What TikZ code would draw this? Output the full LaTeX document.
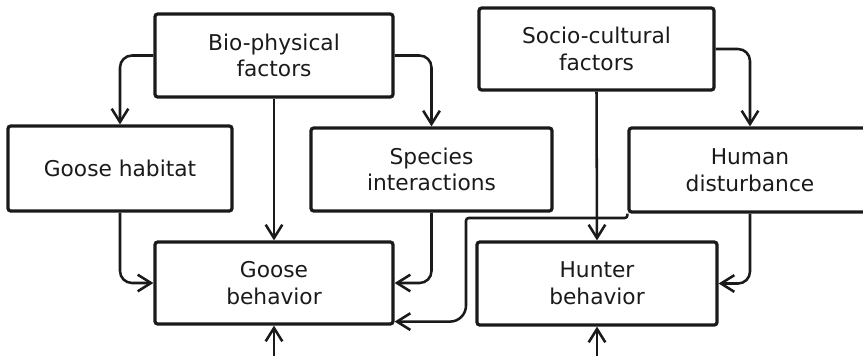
\documentclass[tikz,border=0pt]{standalone}
\usepackage{fontspec}
\setmainfont{DejaVu Sans}
\usetikzlibrary{positioning,arrows.meta,calc}
\definecolor{ink}{HTML}{1A1A1A}

\begin{document}
\begin{tikzpicture}[
  x=0.75pt, y=-0.75pt,
  font=\fontsize{16.3}{20}\selectfont,
  box/.style={rounded corners=2pt, draw=ink, line width=2.4pt, align=center, inner sep=2pt, text=ink},
  >={Straight Barb[length=10pt,width=12.5pt,line width=1.9pt]},
  arr/.style={->, line width=1.9pt, ink, rounded corners=9pt}
]
\clip (0,0) rectangle (863,355);
% ---------------------------------------------------------------- top row
\node[box, minimum width=178.5pt, minimum height=62.25pt] (bio) at (274,55.5) {Bio-physical\\factors};
\node[box, minimum width=176.25pt, minimum height=61.5pt] (soc) at (596.5,49) {Socio-cultural\\factors};

% ---------------------------------------------------------------- middle row
\node[box, minimum width=168pt, minimum height=63.75pt] (hab) at (120,168.5) {Goose habitat};
\node[box, minimum width=180.75pt, minimum height=62.25pt] (spc) at (431.5,169.5) {Species\\interactions};
\node[box, minimum width=181.5pt, minimum height=63pt] (hum) at (750,170) {Human\\disturbance};

% ---------------------------------------------------------------- bottom row
\node[box, minimum width=178.5pt, minimum height=61.5pt] (gb) at (274,283) {Goose\\behavior};
\node[box, minimum width=180pt, minimum height=62.25pt] (hun) at (597,283.5) {Hunter\\behavior};
\coordinate (gin) at (274,362);
\coordinate (hin) at (597,362);
\coordinate (bend) at (466,218);

% bio-physical side
\draw[arr] (bio.west) -| (hab.north);
\draw[arr] (bio.east) -| (spc.north);
\draw[arr] (bio.south) -- (gb.north);
\draw[arr] (hab.south) |- (gb.west);
\draw[arr] (spc.south) |- (gb.east);
% socio-cultural side
\draw[arr] (soc.east) -| (hum.north);
\draw[arr] (soc.south) -- (hun.north);
\draw[arr] (hum.south) |- (hun.east);
% disturbance reaches the geese too
\draw[arr, rounded corners=2pt] (hum.south west) |- (bend) [rounded corners=12pt] |- ($(gb.south east)+(0,-4)$);
% from below
\draw[arr] (gin) -- (gb.south);
\draw[arr] (hin) -- (hun.south);
\end{tikzpicture}
\end{document}
